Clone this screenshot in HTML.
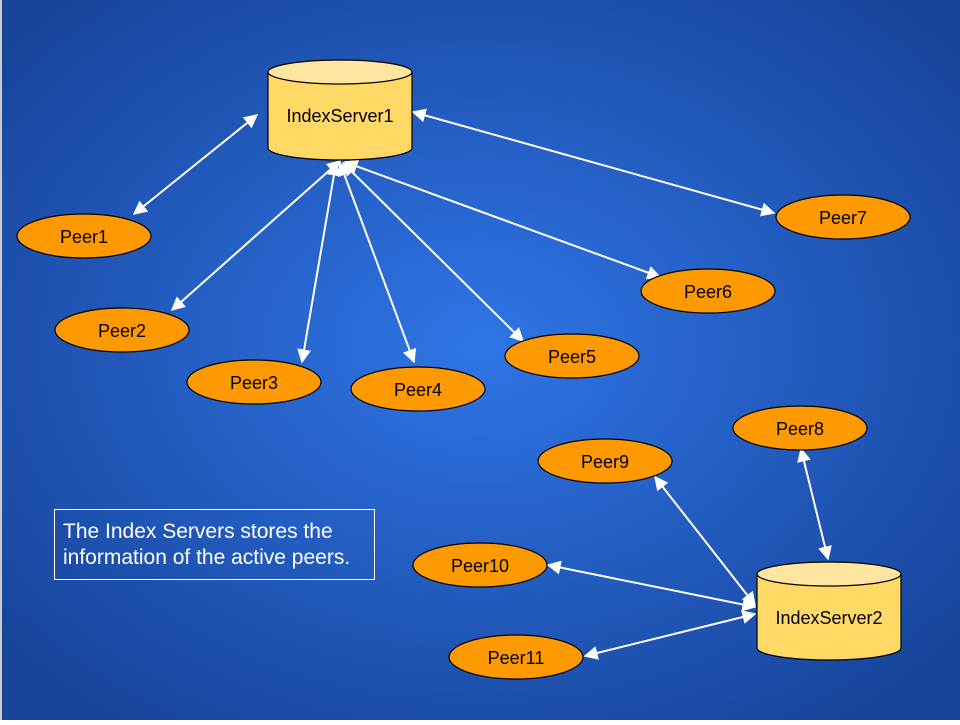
<!DOCTYPE html><html><head><style>body{margin:0}svg text{font-family:"Liberation Sans",sans-serif}</style></head><body>
<svg width="960" height="720" xmlns="http://www.w3.org/2000/svg">
<defs>
<radialGradient id="bg" cx="50%" cy="48%" r="65%"><stop offset="0" stop-color="#2f75e6"/><stop offset="1" stop-color="#17449a"/></radialGradient>
<marker id="a" viewBox="0 0 10 10" refX="9" refY="5" markerWidth="7" markerHeight="7" orient="auto-start-reverse"><path d="M0,0L10,5L0,10z" fill="#fff"/></marker>
</defs>
<rect width="960" height="720" fill="url(#bg)"/>
<rect x="0" y="0" width="2" height="720" fill="#ccc"/>
<g stroke="#fff" stroke-width="2" marker-start="url(#a)" marker-end="url(#a)">
<line x1="257" y1="115" x2="134" y2="214"/>
<line x1="340" y1="161" x2="172" y2="310"/>
<line x1="336" y1="163" x2="302" y2="362"/>
<line x1="340" y1="163" x2="414" y2="362"/>
<line x1="343" y1="163" x2="523" y2="341"/>
<line x1="345" y1="162" x2="660" y2="277"/>
<line x1="413" y1="112" x2="774" y2="213"/>
<line x1="801" y1="449" x2="828" y2="559"/>
<line x1="655" y1="477" x2="755" y2="605"/>
<line x1="548" y1="565" x2="755" y2="607"/>
<line x1="585" y1="656" x2="755" y2="614"/>
</g>
<g stroke="#000" stroke-width="1.2">
<path d="M268,72 V148 A72,12 0 0 0 412,148 V72" fill="#ffd866"/>
<ellipse cx="340" cy="72" rx="72" ry="12" fill="#ffe6a0"/>
<path d="M757,574 V648 A72,12 0 0 0 901,648 V574" fill="#ffd866"/>
<ellipse cx="829" cy="574" rx="72" ry="12" fill="#ffe6a0"/>
<g fill="#ff9900">
<ellipse cx="84" cy="236" rx="67" ry="22"/>
<ellipse cx="122" cy="330" rx="67" ry="22"/>
<ellipse cx="254" cy="382" rx="67" ry="22"/>
<ellipse cx="418" cy="389" rx="67" ry="22"/>
<ellipse cx="572" cy="356" rx="67" ry="22"/>
<ellipse cx="708" cy="291" rx="67" ry="22"/>
<ellipse cx="843" cy="217" rx="67" ry="22"/>
<ellipse cx="800" cy="428" rx="67" ry="22"/>
<ellipse cx="605" cy="461" rx="67" ry="22"/>
<ellipse cx="480" cy="565" rx="67" ry="22"/>
<ellipse cx="516" cy="657" rx="67" ry="22"/>
</g></g>
<g font-size="18" text-anchor="middle" fill="#000">
<text x="340" y="122">IndexServer1</text>
<text x="829" y="624">IndexServer2</text>
<text x="84" y="243">Peer1</text>
<text x="122" y="337">Peer2</text>
<text x="254" y="389">Peer3</text>
<text x="418" y="396">Peer4</text>
<text x="572" y="363">Peer5</text>
<text x="708" y="298">Peer6</text>
<text x="843" y="224">Peer7</text>
<text x="800" y="435">Peer8</text>
<text x="605" y="468">Peer9</text>
<text x="480" y="572">Peer10</text>
<text x="516" y="664">Peer11</text>
</g>
<rect x="54.5" y="509.5" width="320" height="70" fill="none" stroke="#fff" stroke-width="1"/>
<g font-size="21" fill="#fff"><text x="63" y="538">The Index Servers stores the</text><text x="63" y="564">information of the active peers.</text></g>
</svg></body></html>
